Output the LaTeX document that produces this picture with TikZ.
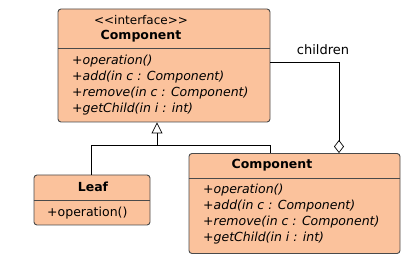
\documentclass[tikz,border=0pt]{standalone}
\usepackage{fontspec}
\setmainfont{DejaVu Sans}
\usepackage{tikz}
\usetikzlibrary{
  arrows.meta,
  calc,
  positioning
}
\definecolor{classfill}{HTML}{FBC29C}
\definecolor{classedge}{HTML}{4A4A4A}
\tikzset{
  classbox/.style={draw=classedge, fill=classfill, line width=0.9pt,
    rounded corners=3pt, inner sep=0pt},
  divider/.style={draw=classedge, line width=0.9pt},
  stereo/.style={font=\fontsize{12}{13}\selectfont, inner sep=0pt},
  title/.style={font=\fontsize{12.5}{13}\selectfont\bfseries, inner sep=0pt},
  member/.style={font=\fontsize{12.5}{13}\selectfont\itshape, anchor=west, inner sep=0pt},
  plainmember/.style={font=\fontsize{12.5}{13}\selectfont, anchor=west, inner sep=0pt},
  link/.style={draw=black, line width=0.7pt},
  inherit/.style={link, -{Triangle[open, length=11pt, width=11pt]}},
  aggregate/.style={link, -{Diamond[open, length=13pt, width=10pt]}}
}
\begin{document}
\begin{tikzpicture}[x=1pt, y=-1pt]
  \useasboundingbox (0,0) rectangle (416,259);
  \node[classbox, minimum width=212pt, minimum height=113pt] (component) at (164,65.5) {};
  \node[classbox, minimum width=116pt, minimum height=50pt] (leaf) at (92,200) {};
  \node[classbox, minimum width=211pt, minimum height=100pt] (composite) at (294.5,203.5) {};
  \draw[divider] (component.west |- 0,48) -- (component.east |- 0,48);
  \draw[divider] (leaf.west |- 0,200) -- (leaf.east |- 0,200);
  \draw[divider] (composite.west |- 0,178) -- (composite.east |- 0,178);
  \node[stereo] (stereotype) at (141,20) {{<}{<}interface{>}{>}};
  \node[title] (componentname) at (141,36) {Component};
  \node[member] (op1) at (72,61) {+operation()};
  \node[member] (add1) at (72,77) {+add(in c : Component)};
  \node[member] (remove1) at (72,93) {+remove(in c : Component)};
  \node[member] (child1) at (72,109) {+getChild(in i : int)};
  \node[title] (leafname) at (93,187) {Leaf};
  \node[plainmember] (op2) at (47,213) {+operation()};
  \node[title] (compositename) at (272,165) {Component};
  \node[member] (op3) at (203,190) {+operation()};
  \node[member] (add3) at (203,206) {+add(in c : Component)};
  \node[member] (remove3) at (203,222) {+remove(in c : Component)};
  \node[member] (child3) at (203,238) {+getChild(in i : int)};
  \coordinate (split) at (157,145);
  \coordinate (bend) at (270,145);
  \coordinate (drop) at (339,62);
  \draw[link] (leaf.north -| 91,0) |- (bend) -- (composite.north -| bend);
  \draw[inherit] (split) -- (component.south -| split);
  \draw[aggregate] (component.east |- drop) -| (composite.north -| drop);
  \node[stereo, above=7pt of drop, xshift=-16pt, font=\fontsize{13}{14}\selectfont] (children) {children};
\end{tikzpicture}
\end{document}
